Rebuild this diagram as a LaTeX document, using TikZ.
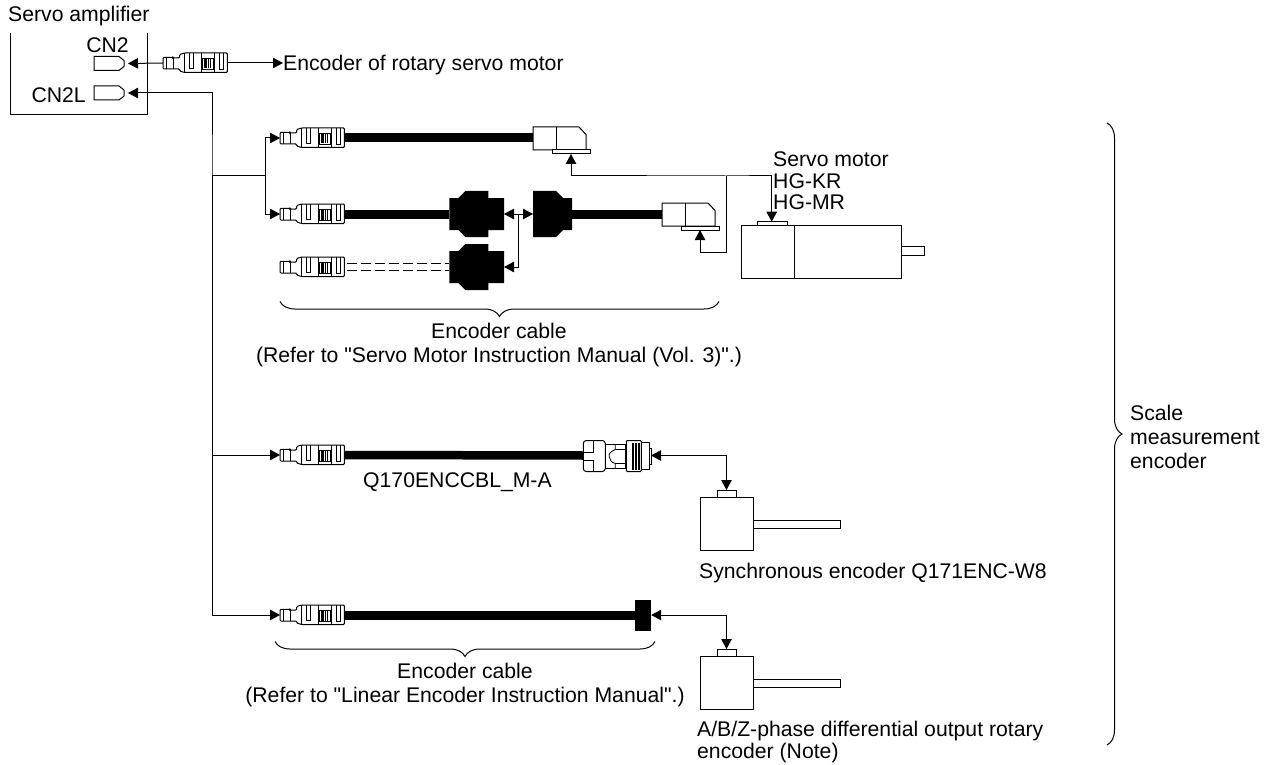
\documentclass[tikz,border=0pt]{standalone}
\usepackage{fontspec}
\newfontfamily\labfont{Liberation Sans}
\usetikzlibrary{positioning, arrows.meta, decorations.pathreplacing}

\tikzset{
  >={Triangle[length=10pt,width=10.5pt]},
  wire/.style={line width=1pt},
  thin part/.style={line width=.8pt},
  part/.style={line width=1pt, fill=white, line join=miter},
  cable/.style={line width=9pt},
  ghost/.style={line width=.8pt, dash pattern=on 10pt off 4pt},
  bracket/.style={line width=1pt, decorate, decoration={brace, amplitude=15pt}},
  lab/.style={font=\labfont\fontsize{21.2}{21.5}\selectfont, inner sep=0pt, align=left, text=black},
  labc/.style={font=\labfont\fontsize{21.2}{23.5}\selectfont, inner sep=0pt, align=center, text=black},
  port/.pic={
    \draw[part] (-30,-7) -- (-5,-7) -- (0,-3) -- (0,3) -- (-5,7) -- (-30,7) -- cycle;
    \coordinate (-end) at (4,0);
  },
  plug/.pic={
    \draw[part, rounded corners=1pt] (0,-5.7) -- (10,-5.7) -- (10,-5) -- (16.7,-5) -- (16.7,-8.5) -- (21.5,-10)
      -- (64.3,-10) -- (64.3,9.5) -- (21.5,9.5) -- (16.7,8) -- (16.7,6) -- (10,6) -- (0,6) -- cycle;
    \draw[thin part] (3,-5.7) -- (3,6) (10,-5) -- (10,6) (21.5,-10) -- (21.5,9.5);
    \draw[thin part] (26.7,-10) -- (26.7,5.5) -- (30.7,5.5) -- (30.7,-10);
    \draw[thin part] (38.5,-10) -- (38.5,9.5) (51.5,-10) -- (51.5,9.5);
    \draw[thin part] (39.5,-5) rectangle (50,6);
    \foreach \i in {42,43.8,45.6,47.4}
      \draw[line width=1.1pt] (\i,-4.5) -- (\i,5.5);
    \draw[thin part] (56,-10) -- (56,6) -- (60,6) -- (60,-10);
    \coordinate (-tip) at (0,0);
    \coordinate (-tail) at (64.3,0);
    \coordinate (-taila) at (67,-3.75);
    \coordinate (-tailb) at (67,3.75);
  },
  elbow/.pic={
    \draw[part] (0,-11) -- (46,-11) -- (53,-3.5) -- (53,12) -- (0,12) -- cycle;
    \draw[wire] (23,-11) -- (23,12);
    \draw[part] (19,12) rectangle (57.5,16);
    \coordinate (-in) at (0,0);
    \coordinate (-foot) at (38,16);
  },
  blobm/.pic={
    \fill (0,-16) -- (9,-16) -- (16,-23) -- (39,-23) -- (39,-16) -- (54.7,-16)
      -- (54.7,16) -- (39,16) -- (39,23) -- (16,23) -- (9,16) -- (0,16) -- cycle;
    \coordinate (-in) at (0,0);
    \coordinate (-out) at (54.7,0);
    \coordinate (-ina) at (0,-3.75);
    \coordinate (-inb) at (0,3.75);
  },
  blobf/.pic={
    \fill (0,-23) -- (23,-23) -- (30,-16) -- (39,-16) -- (39,16) -- (30,16) -- (23,23) -- (0,23) -- cycle;
    \coordinate (-in) at (0,0);
    \coordinate (-out) at (39,0);
  },
  encoder/.pic={
    \draw[part] (-9.5,-7.5) rectangle (9.5,0);
    \draw[part] (-26.5,0) rectangle (26.5,53);
    \draw[part] (26.5,23) rectangle (113.5,31);
    \coordinate (-top) at (0,-7.5);
  },
  circular/.pic={
    \draw[part, rounded corners=3pt] (0,-15) rectangle (22,16);
    \draw[wire] (0,-3.5) -- (10,-3.5) -- (10,-15) (0,4.5) -- (10,4.5) -- (10,16);
    \draw[part] (22,-11) rectangle (42,13);
    \draw[thin part] (32,-11) -- (32,-6) -- (42,-6) (32,-6) .. controls (27,-4) and (25,-1) .. (26,1) .. controls (26,4) and (28,7) .. (32,8) -- (42,8) (32,8) -- (32,13);
    \draw[part, rounded corners=1pt] (43,-15) rectangle (58,16);
    \foreach \i in {49,50.5,...,57.5}
      \draw[line width=.8pt] (\i,-13) -- (\i,14);
    \draw[part] (58,-13) rectangle (65.7,14);
    \draw[part] (65.7,-7) rectangle (67.7,9);
    \coordinate (-in) at (0,0);
    \coordinate (-out) at (67.7,0);
  },
}

\begin{document}
\begin{tikzpicture}[x=1pt, y=-1pt]
  \useasboundingbox (0,0) rectangle (1275,765);

  \node [lab, anchor=west] (amptext) at (8,16.5) {Servo amplifier};
  \draw[wire] (10.5,33) |- (147,115) -- (147,33);
  \node [lab, anchor=center] (cntext) at (107.5,45) {CN2};
  \node [lab, anchor=east] (cnltext) at (86,95) {CN2L};
  \pic (cn) at (124,63.5) {port};
  \pic (cnl) at (124,93) {port};

  \coordinate (rowz) at (163,63);
  \coordinate (rowa) at (280,138);
  \coordinate [below=76pt of rowa] (rowb);
  \coordinate [below=53pt of rowb] (rowc);
  \coordinate [below=188pt of rowc] (rowd);
  \coordinate [below=160pt of rowd] (rowe);
  \pic (plugz) at (rowz) {plug};
  \pic (pluga) at (rowa) {plug};
  \pic (plugb) at (rowb) {plug};
  \pic (plugc) at (rowc) {plug};
  \pic (plugd) at (rowd) {plug};
  \pic (pluge) at (rowe) {plug};

  \node [lab, anchor=west] (enctext) at (283,65.5) {Encoder of rotary servo motor};
  \draw[wire, ->] (plugz-tip) -- (cn-end);
  \draw[wire, ->] (plugz-tail) -- (plugz-tail -| enctext.west);

  \coordinate (trunk) at (212,176);
  \coordinate (split) at (265,176);
  \draw[wire, <->] (cnl-end) -| (trunk) |- (pluge-tip);
  \draw[wire] (trunk) -- (split);
  \draw[wire, ->] (split) |- (pluga-tip);
  \draw[wire, ->] (split) |- (plugb-tip);
  \draw[wire, ->] (trunk) |- (plugd-tip);

  \pic (elba) at (533,138) {elbow};
  \pic (elbb) at (662,214) {elbow};
  \pic (blobb) at (449.3,214) {blobm};
  \pic (blobc) at (449.3,267) {blobm};
  \pic (blobd) at (533,214) {blobf};
  \draw[cable] (pluga-tail) -- (elba-in);
  \draw[cable] (plugb-tail) -- (blobb-in);
  \draw[cable] (blobd-out) -- (elbb-in);
  \draw[ghost] (plugc-taila) -- (blobc-ina);
  \draw[ghost] (plugc-tailb) -- (blobc-inb);

  \coordinate (jn) at (518,214);
  \draw[wire, ->] (jn) -- (blobb-out);
  \draw[wire, ->] (jn) -- (blobd-in);
  \draw[wire, ->] (jn) |- (blobc-out);

  \draw[part] (757,221.7) rectangle (787,225.7);
  \draw[part] (901,246) rectangle (924,255);
  \draw[part] (741.7,225.7) rectangle (901,278);
  \draw[wire] (794.7,225.7) -- (794.7,278);
  \coordinate (motortop) at (771.7,221.7);
  \coordinate (bus) at (726.5,176);
  \coordinate (hook) at (700,252);
  \draw[wire, <->] (elba-foot) |- (bus) -| (motortop);
  \draw[wire, ->] (bus) |- (hook) -- (elbb-foot);
  \node [lab, anchor=west] (motortext) at (773,181) {Servo motor\\HG-KR\\HG-MR};

  \draw[bracket] (719,301.5) -- (280,301.5);
  \node [labc, anchor=center] (cabletext) at (499,345) {Encoder cable\\(Refer to "Servo Motor Instruction Manual (Vol. 3)".)};

  \pic (sync) at (583.3,455.5) {circular};
  \pic (encc) at (726.5,497.5) {encoder};
  \draw[cable, line width=8.5pt] (plugd-tail) -- (sync-in);
  \draw[wire, <->] (sync-out) -| (encc-top);
  \node [lab, anchor=west] (qtext) at (363,482) {Q170ENCCBL\_M-A};
  \node [lab, anchor=west] (synctext) at (699,573.5) {Synchronous encoder Q171ENC-W8};

  \node (lug) [fill=black, inner sep=0pt, minimum width=16pt, minimum height=31pt] at (643,615) {};
  \pic (ence) at (726.5,656.5) {encoder};
  \draw[cable] (pluge-tail) -- (lug.west);
  \draw[wire, <->] (lug.east) -| (ence-top);

  \draw[bracket] (655,641.5) -- (275,641.5);
  \node [labc, anchor=center] (lineartext) at (465,685) {Encoder cable\\(Refer to "Linear Encoder Instruction Manual".)};
  \node [lab, anchor=west] (abztext) at (697,742) {A/B/Z-phase differential output rotary\\encoder (Note)};

  \draw[bracket] (1107,123) -- (1107,745);
  \node [lab, anchor=west, font=\labfont\fontsize{21.2}{24}\selectfont] (scaletext) at (1130,437) {Scale\\measurement\\encoder};
\end{tikzpicture}
\end{document}
